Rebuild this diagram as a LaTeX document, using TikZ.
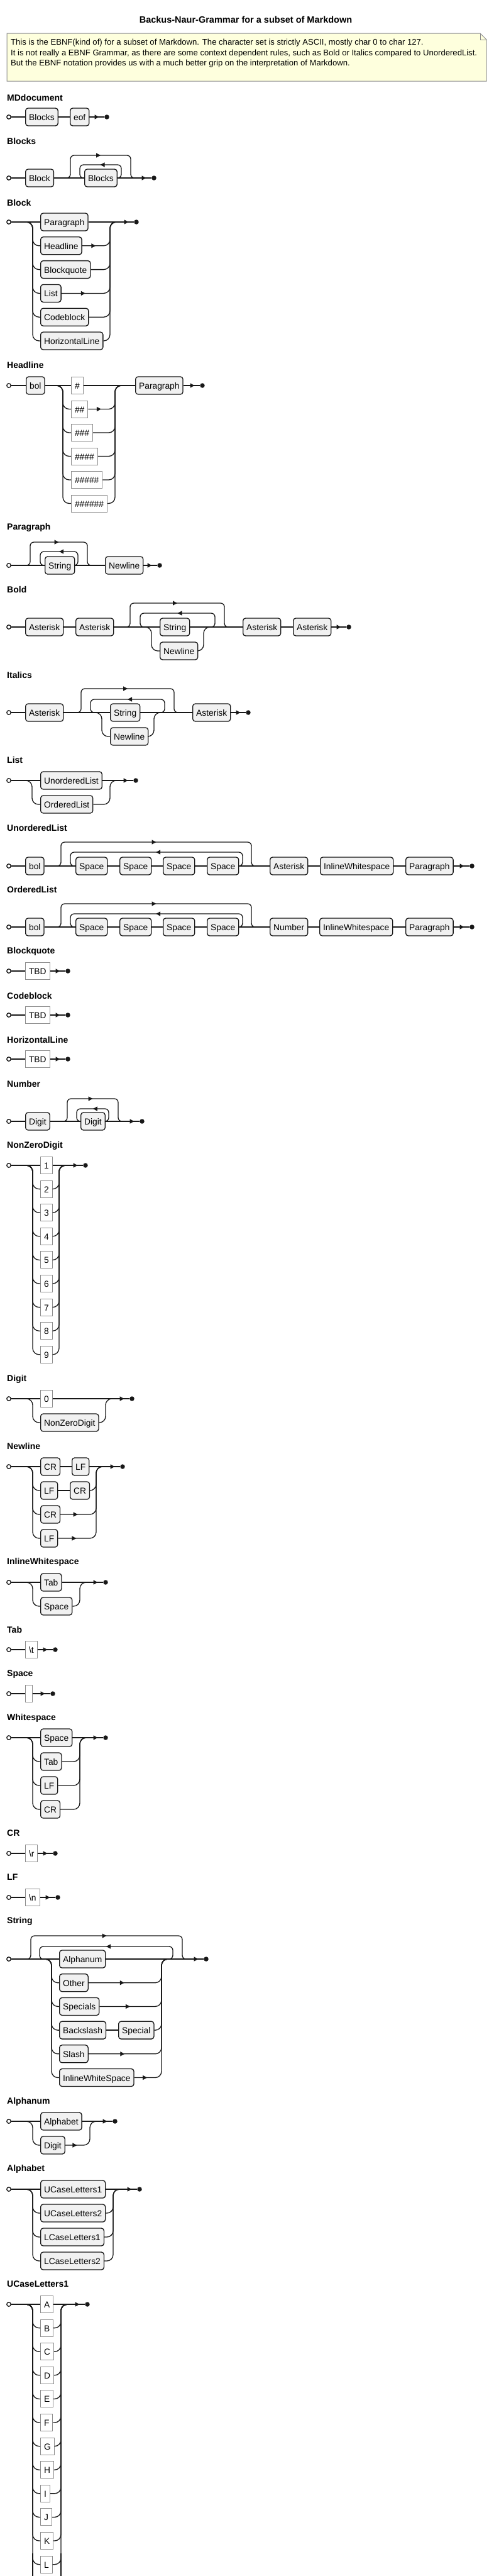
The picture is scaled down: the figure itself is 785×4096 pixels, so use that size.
\documentclass[tikz,border=0pt]{standalone}
\usepackage{fontspec}
\setmainfont{Liberation Sans}
\usetikzlibrary{arrows.meta,decorations.markings}

\definecolor{railc}{HTML}{181818}
\definecolor{ntfill}{HTML}{F1F1F1}
\definecolor{tmline}{HTML}{8C8C8C}
\definecolor{notefill}{HTML}{FEFFDD}
\definecolor{noteline}{HTML}{8C8C8C}
\newcommand{\boxfont}{\fontsize{13.8}{16}\selectfont}
\newcommand{\rulefont}{\fontsize{14}{17}\selectfont\bfseries}
\newcommand{\notefont}{\fontsize{13.1}{15}\selectfont}

\begin{document}
\begin{tikzpicture}[x=1pt,y=-1pt,
  rail/.style={draw,color=railc,line width=1.3pt,rounded corners=10pt},
  loopr/.style={rail,rounded corners=6pt},
  arrat/.style={postaction={decorate},decoration={markings,mark=at position #1 with {\arrow{Triangle[length=7pt,width=7pt]}}}},
  nt/.style={draw=railc,fill=ntfill,line width=1.3pt,rounded corners=4pt,minimum height=28pt,inner xsep=5.5pt,inner ysep=0pt,text height=11pt,text depth=0pt,font=\boxfont,anchor=west},
  tm/.style={draw=tmline,fill=white,line width=1pt,minimum height=27pt,inner xsep=5.5pt,inner ysep=0pt,text height=11pt,text depth=0pt,font=\boxfont,anchor=west},
  rname/.style={font=\rulefont,anchor=west,inner sep=0pt},
  notet/.style={font=\notefont,anchor=west,inner sep=0pt},
  bgn/.style={circle,draw=railc,fill=white,line width=1.3pt,minimum size=6.5pt,inner sep=0pt},
  fin/.style={circle,fill=railc,minimum size=7.5pt,inner sep=0pt}]
  \useasboundingbox (0,0) rectangle (785,4096);
  \clip (0,0) rectangle (785,4096);

  % title and note
  \node[font=\fontsize{14.5}{17}\selectfont\bfseries] (title) at (391,31) {Backus-Naur-Grammar for a subset of Markdown};
  \draw[fill=notefill,draw=noteline,line width=1pt] (11,53) -- (764,53) -- (774,63) -- (774,129) -- (11,129) -- cycle;
  \draw[draw=noteline,line width=1pt] (764,53) -- (764,63) -- (774,63);
  \node[notet] (note1) at (17,68) {This is the EBNF(kind of) for a subset of Markdown. The character set is strictly ASCII, mostly char 0 to char 127.};
  \node[notet] (note2) at (17,85) {It is not really a EBNF Grammar, as there are some context dependent rules, such as Bold or Italics compared to UnorderedList.};
  \node[notet] (note3) at (17,101) {But the EBNF notation provides us with a much better grip on the interpretation of Markdown.};

  % MDdocument
  \node[rname] (t-md) at (11,155) {MDdocument};
  \node[bgn] (md-in) at (14,186) {};
  \node[nt] (md-blocks) at (40,186) {Blocks};
  \node[nt] (md-eof) at (111,186) {eof};
  \node[fin] (md-out) at (170,186) {};
  \draw[rail] (md-in) -- (md-blocks) -- (md-eof);
  \draw[rail,arrat=-8.5pt] (md-eof) -- (md-out);

  % Blocks
  \node[rname] (t-bks) at (11,224) {Blocks};
  \node[bgn] (bks-in) at (14,283) {};
  \node[nt] (bks-block) at (40,283) {Block};
  \node[nt] (bks-blocks) at (134,283) {Blocks};
  \node[fin] (bks-out) at (245,283) {};
  \draw[rail] (bks-in) -- (bks-block) -- (bks-blocks);
  \draw[rail,arrat=-8.5pt] (bks-blocks) -- (bks-out);
  \draw[loopr,arrat=0.5] (104,283) -| (112,247) -| (208,283) -- (216,283);
  \draw[loopr,arrat=0.5] (bks-blocks.east) -| (193,262) -| (127,283) -- (bks-blocks.west);

  % Block
  \node[rname] (t-blk) at (11,322) {Block};
  \node[bgn] (blk-in) at (14,353) {};
  \node[nt] (blk-par) at (64,353) {Paragraph};
  \node[nt] (blk-head) at (64,390.8) {Headline};
  \node[nt] (blk-quote) at (64,428.6) {Blockquote};
  \node[nt] (blk-list) at (64,466.4) {List};
  \node[nt] (blk-code) at (64,504.2) {Codeblock};
  \node[nt] (blk-hline) at (64,542) {HorizontalLine};
  \node[fin] (blk-out) at (217,353) {};
  \draw[rail] (blk-in) -- (blk-par);
  \draw[rail,arrat=-8.5pt] (blk-par) -- (blk-out);
  \foreach \n in {head,quote,list,code,hline}
    \draw[rail] (42,353) -| (52,0 |- blk-\n.west) -- (blk-\n.west);
  \draw[rail,arrat=21.5pt] (blk-head.east) -| (175,353) -- (185,353);
  \draw[rail,arrat=38pt] (blk-list.east) -| (175,353) -- (185,353);
  \foreach \n in {quote,code,hline}
    \draw[rail] (blk-\n.east) -| (175,353) -- (185,353);

  % Headline
  \node[rname] (t-hd) at (11,580) {Headline};
  \node[bgn] (hd-in) at (14,613) {};
  \node[nt] (hd-bol) at (41,613) {bol};
  \node[tm] (hd-h1) at (113,613) {\#};
  \node[tm] (hd-h2) at (113,650.5) {\#\#};
  \node[tm] (hd-h3) at (113,688) {\#\#\#};
  \node[tm] (hd-h4) at (113,725.5) {\#\#\#\#};
  \node[tm] (hd-h5) at (113,763) {\#\#\#\#\#};
  \node[tm] (hd-h6) at (113,800.5) {\#\#\#\#\#\#};
  \node[nt] (hd-par) at (215,613) {Paragraph};
  \node[fin] (hd-out) at (322,613) {};
  \draw[rail] (hd-in) -- (hd-bol) -- (hd-h1) -- (hd-par);
  \draw[rail,arrat=-8.5pt] (hd-par) -- (hd-out);
  \foreach \n in {2,...,6}
    \draw[rail] (90,613) -| (100,0 |- hd-h\n.west) -- (hd-h\n.west);
  \draw[rail,arrat=20.5pt] (hd-h2.east) -| (183,613) -- (193,613);
  \foreach \n in {3,...,6}
    \draw[rail] (hd-h\n.east) -| (183,613) -- (193,613);

  % Paragraph
  \node[rname] (t-par) at (11,839) {Paragraph};
  \node[bgn] (par-in) at (14,899) {};
  \node[nt] (par-str) at (71,899) {String};
  \node[nt] (par-nl) at (167,899) {Newline};
  \node[fin] (par-out) at (254,899) {};
  \draw[rail] (par-in) -- (par-str) -- (par-nl);
  \draw[rail,arrat=-8.5pt] (par-nl) -- (par-out);
  \draw[loopr,arrat=0.5] (41,899) -| (48,862) -| (139,899) -- (146,899);
  \draw[loopr,arrat=0.5] (par-str.east) -| (124,877) -| (64,899) -- (par-str.west);

  % Bold
  \node[rname] (t-bold) at (11,937) {Bold};
  \node[bgn] (bo-in) at (14,997) {};
  \node[nt] (bo-a1) at (40,997) {Asterisk};
  \node[nt] (bo-a2) at (120,997) {Asterisk};
  \node[nt] (bo-str) at (254,997) {String};
  \node[nt] (bo-nl) at (254,1035) {Newline};
  \node[nt] (bo-a3) at (386,997) {Asterisk};
  \node[nt] (bo-a4) at (466,997) {Asterisk};
  \node[fin] (bo-out) at (555,997) {};
  \draw[rail] (bo-in) -- (bo-a1) -- (bo-a2) -- (bo-str) -- (bo-a3) -- (bo-a4);
  \draw[rail,arrat=-8.5pt] (bo-a4) -- (bo-out);
  \draw[loopr,arrat=0.5] (200,997) -| (207,959) -| (357,997) -- (364,997);
  \draw[loopr,arrat=0.5] (335,997) -| (342,975) -| (223,997) -- (230,997);
  \draw[rail] (231,997) -| (241,1035) -- (bo-nl.west);
  \draw[rail] (bo-nl.east) -| (324,997) -- (334,997);

  % Italics
  \node[rname] (t-ita) at (11,1073) {Italics};
  \node[bgn] (it-in) at (14,1133) {};
  \node[nt] (it-a1) at (40,1133) {Asterisk};
  \node[nt] (it-str) at (175,1133) {String};
  \node[nt] (it-nl) at (175,1171) {Newline};
  \node[nt] (it-a2) at (306,1133) {Asterisk};
  \node[fin] (it-out) at (395,1133) {};
  \draw[rail] (it-in) -- (it-a1) -- (it-str) -- (it-a2);
  \draw[rail,arrat=-8.5pt] (it-a2) -- (it-out);
  \draw[loopr,arrat=0.5] (122,1133) -| (129,1095) -| (277,1133) -- (284,1133);
  \draw[loopr,arrat=0.5] (255,1133) -| (262,1112) -| (144,1133) -- (151,1133);
  \draw[rail] (152,1133) -| (162,1171) -- (it-nl.west);
  \draw[rail] (it-nl.east) -| (245,1133) -- (255,1133);

  % List
  \node[rname] (t-list) at (11,1208) {List};
  \node[bgn] (li-in) at (14,1241) {};
  \node[nt] (li-ul) at (64,1241) {UnorderedList};
  \node[nt] (li-ol) at (64,1279) {OrderedList};
  \node[fin] (li-out) at (216,1241) {};
  \draw[rail] (li-in) -- (li-ul);
  \draw[rail,arrat=-8.5pt] (li-ul) -- (li-out);
  \draw[rail] (41,1241) -| (51,1279) -- (li-ol.west);
  \draw[rail] (li-ol.east) -| (175,1241) -- (185,1241);

  % UnorderedList
  \node[rname] (t-ul) at (11,1316) {UnorderedList};
  \node[bgn] (ul-in) at (14,1377) {};
  \node[nt] (ul-bol) at (40,1377) {bol};
  \foreach \i/\x in {1/120,2/190,3/259,4/329}
    \node[nt] (ul-s\i) at (\x,1377) {Space};
  \node[nt] (ul-ast) at (429,1377) {Asterisk};
  \node[nt] (ul-iws) at (509,1377) {InlineWhitespace};
  \node[nt] (ul-par) at (645,1377) {Paragraph};
  \node[fin] (ul-out) at (751,1377) {};
  \draw[rail] (ul-in) -- (ul-bol) -- (ul-s1) -- (ul-s2) -- (ul-s3) -- (ul-s4) -- (ul-ast) -- (ul-iws) -- (ul-par);
  \draw[rail,arrat=-8.5pt] (ul-par) -- (ul-out);
  \draw[loopr,arrat=0.5] (90,1377) -| (97,1339) -| (400,1377) -- (407,1377);
  \draw[loopr,arrat=0.5] (ul-s4.east) -| (386,1355) -| (112,1377) -- (ul-s1.west);

  % OrderedList
  \node[rname] (t-ol) at (11,1414) {OrderedList};
  \node[bgn] (ol-in) at (14,1474) {};
  \node[nt] (ol-bol) at (40,1474) {bol};
  \foreach \i/\x in {1/120,2/190,3/259,4/329}
    \node[nt] (ol-s\i) at (\x,1474) {Space};
  \node[nt] (ol-num) at (429,1474) {Number};
  \node[nt] (ol-iws) at (508,1474) {InlineWhitespace};
  \node[nt] (ol-par) at (645,1474) {Paragraph};
  \node[fin] (ol-out) at (751,1474) {};
  \draw[rail] (ol-in) -- (ol-bol) -- (ol-s1) -- (ol-s2) -- (ol-s3) -- (ol-s4) -- (ol-num) -- (ol-iws) -- (ol-par);
  \draw[rail,arrat=-8.5pt] (ol-par) -- (ol-out);
  \draw[loopr,arrat=0.5] (90,1474) -| (97,1437) -| (400,1474) -- (407,1474);
  \draw[loopr,arrat=0.5] (ol-s4.east) -| (386,1453) -| (112,1474) -- (ol-s1.west);

  % Blockquote, Codeblock, HorizontalLine
  \foreach \t/\n [count=\i from 0] in {Blockquote/bq,Codeblock/cb,HorizontalLine/hz}{
    \node[rname] (t-\n) at (11,{1513+70*\i}) {\t};
    \node[bgn] (\n-in) at (14,{1544+70*\i}) {};
    \node[tm] (\n-tbd) at (40,{1544+70*\i}) {TBD};
    \node[fin] (\n-out) at (108,{1544+70*\i}) {};
    \draw[rail] (\n-in) -- (\n-tbd);
    \draw[rail,arrat=-8.5pt] (\n-tbd) -- (\n-out);
  }

  % Number
  \node[rname] (t-num) at (11,1723) {Number};
  \node[bgn] (nu-in) at (14,1783) {};
  \node[nt] (nu-d1) at (40,1783) {Digit};
  \node[nt] (nu-d2) at (128,1783) {Digit};
  \node[fin] (nu-out) at (226,1783) {};
  \draw[rail] (nu-in) -- (nu-d1) -- (nu-d2);
  \draw[rail,arrat=-8.5pt] (nu-d2) -- (nu-out);
  \draw[loopr,arrat=0.5] (100,1783) -| (107,1747) -| (188,1783) -- (195,1783);
  \draw[loopr,arrat=0.5] (nu-d2.east) -| (173,1763) -| (122,1783) -- (nu-d2.west);

  % NonZeroDigit
  \node[rname] (t-nzd) at (11,1822) {NonZeroDigit};
  \node[bgn] (nz-in) at (14,1853) {};
  \foreach \d in {1,...,9}
    \node[tm] (nz-\d) at (64,{1853+(\d-1)*37.6}) {\d};
  \node[fin] (nz-out) at (136,1853) {};
  \draw[rail] (nz-in) -- (nz-1);
  \draw[rail,arrat=-8.5pt] (nz-1) -- (nz-out);
  \foreach \d in {2,...,9}{
    \draw[rail] (42,1853) -| (52,0 |- nz-\d.west) -- (nz-\d.west);
    \draw[rail] (nz-\d.east) -| (94,1853) -- (104,1853);
  }

  % Digit
  \node[rname] (t-dig) at (11,2193) {Digit};
  \node[bgn] (dg-in) at (14,2224) {};
  \node[tm] (dg-0) at (64,2224) {0};
  \node[nt] (dg-nzd) at (64,2262) {NonZeroDigit};
  \node[fin] (dg-out) at (210,2224) {};
  \draw[rail] (dg-in) -- (dg-0);
  \draw[rail,arrat=-8.5pt] (dg-0) -- (dg-out);
  \draw[rail] (42,2224) -| (52,2262) -- (dg-nzd.west);
  \draw[rail] (dg-nzd.east) -| (168,2224) -- (178,2224);

  % Newline
  \node[rname] (t-nl) at (11,2299) {Newline};
  \node[bgn] (nl-in) at (14,2332) {};
  \node[nt] (nl-cr1) at (64,2332) {CR};
  \node[nt] (nl-lf1) at (114,2332) {LF};
  \node[nt] (nl-lf2) at (64,2370) {LF};
  \node[nt] (nl-cr2) at (111,2370) {CR};
  \node[nt] (nl-cr3) at (64,2408) {CR};
  \node[nt] (nl-lf4) at (64,2446) {LF};
  \node[fin] (nl-out) at (195,2332) {};
  \draw[rail] (nl-in) -- (nl-cr1) -- (nl-lf1);
  \draw[rail,arrat=-8.5pt] (nl-lf1) -- (nl-out);
  \draw[rail] (nl-lf2) -- (nl-cr2);
  \foreach \n in {lf2,cr3,lf4}
    \draw[rail] (42,2332) -| (52,0 |- nl-\n.west) -- (nl-\n.west);
  \draw[rail] (nl-cr2.east) -| (153,2332) -- (163,2332);
  \draw[rail,arrat=27.5pt] (nl-cr3.east) -| (153,2332) -- (163,2332);
  \draw[rail,arrat=29pt] (nl-lf4.east) -| (153,2332) -- (163,2332);

  % InlineWhitespace
  \node[rname] (t-iws) at (11,2484) {InlineWhitespace};
  \node[bgn] (iw-in) at (14,2516) {};
  \node[nt] (iw-tab) at (64,2516) {Tab};
  \node[nt] (iw-sp) at (64,2554) {Space};
  \node[fin] (iw-out) at (168,2516) {};
  \draw[rail] (iw-in) -- (iw-tab);
  \draw[rail,arrat=-8.5pt] (iw-tab) -- (iw-out);
  \draw[rail] (42,2516) -| (52,2554) -- (iw-sp.west);
  \draw[rail] (iw-sp.east) -| (127,2516) -- (137,2516);

  % Tab
  \node[rname] (t-tab) at (11,2591) {Tab};
  \node[bgn] (tb-in) at (14,2623) {};
  \node[tm] (tb-t) at (40,2623) {\textbackslash t};
  \node[fin] (tb-out) at (88,2623) {};
  \draw[rail] (tb-in) -- (tb-t);
  \draw[rail,arrat=-8.5pt] (tb-t) -- (tb-out);

  % Space
  \node[rname] (t-spc) at (11,2662) {Space};
  \node[bgn] (sp-in) at (14,2693) {};
  \node[tm] (sp-t) at (40,2693) {\ };
  \node[fin] (sp-out) at (84,2693) {};
  \draw[rail] (sp-in) -- (sp-t);
  \draw[rail,arrat=-8.5pt] (sp-t) -- (sp-out);

  % Whitespace
  \node[rname] (t-ws) at (11,2732) {Whitespace};
  \node[bgn] (ws-in) at (14,2763) {};
  \node[nt] (ws-sp) at (64,2763) {Space};
  \node[nt] (ws-tab) at (64,2801) {Tab};
  \node[nt] (ws-lf) at (64,2839) {LF};
  \node[nt] (ws-cr) at (64,2877) {CR};
  \node[fin] (ws-out) at (168,2763) {};
  \draw[rail] (ws-in) -- (ws-sp);
  \draw[rail,arrat=-8.5pt] (ws-sp) -- (ws-out);
  \foreach \n in {tab,lf,cr}{
    \draw[rail] (42,2763) -| (52,0 |- ws-\n.west) -- (ws-\n.west);
    \draw[rail] (ws-\n.east) -| (127,2763) -- (137,2763);
  }

  % CR
  \node[rname] (t-cr) at (11,2915) {CR};
  \node[bgn] (cr-in) at (14,2947) {};
  \node[tm] (cr-t) at (40,2947) {\textbackslash r};
  \node[fin] (cr-out) at (88,2947) {};
  \draw[rail] (cr-in) -- (cr-t);
  \draw[rail,arrat=-8.5pt] (cr-t) -- (cr-out);

  % LF
  \node[rname] (t-lf) at (11,2985) {LF};
  \node[bgn] (lf-in) at (14,3017) {};
  \node[tm] (lf-t) at (40,3017) {\textbackslash n};
  \node[fin] (lf-out) at (92,3017) {};
  \draw[rail] (lf-in) -- (lf-t);
  \draw[rail,arrat=-8.5pt] (lf-t) -- (lf-out);

  % String
  \node[rname] (t-str) at (11,3055) {String};
  \node[bgn] (st-in) at (14,3115) {};
  \node[nt] (st-an) at (94,3115) {Alphanum};
  \node[nt] (st-ot) at (94,3152.7) {Other};
  \node[nt] (st-spc) at (94,3190.4) {Specials};
  \node[nt] (st-bs) at (94,3228.1) {Backslash};
  \node[nt] (st-sp) at (188,3228.1) {Special};
  \node[nt] (st-sl) at (94,3265.8) {Slash};
  \node[nt] (st-iws) at (94,3303.5) {InlineWhiteSpace};
  \node[fin] (st-out) at (328,3115) {};
  \draw[rail] (st-in) -- (st-an);
  \draw[rail,arrat=-8.5pt] (st-an) -- (st-out);
  \draw[rail] (st-bs) -- (st-sp);
  \foreach \n in {ot,spc,bs,sl,iws}
    \draw[rail] (72,3115) -| (82,0 |- st-\n.west) -- (st-\n.west);
  \draw[rail,arrat=57pt] (st-ot.east) -| (257,3115) -- (267,3115);
  \draw[rail,arrat=48.5pt] (st-spc.east) -| (257,3115) -- (267,3115);
  \draw[rail] (st-sp.east) -| (257,3115) -- (267,3115);
  \draw[rail,arrat=57.5pt] (st-sl.east) -| (257,3115) -- (267,3115);
  \draw[rail,arrat=20.5pt] (st-iws.east) -| (257,3115) -- (267,3115);
  \draw[loopr,arrat=0.5] (42,3115) -| (49,3078) -| (290,3115) -- (297,3115);
  \draw[loopr,arrat=0.5] (268,3115) -| (275,3095) -| (63,3115) -- (70,3115);

  % Alphanum
  \node[rname] (t-an) at (11,3342) {Alphanum};
  \node[bgn] (an-in) at (14,3373) {};
  \node[nt] (an-ab) at (64,3373) {Alphabet};
  \node[nt] (an-dg) at (64,3411) {Digit};
  \node[fin] (an-out) at (183,3373) {};
  \draw[rail] (an-in) -- (an-ab);
  \draw[rail,arrat=-8.5pt] (an-ab) -- (an-out);
  \draw[rail] (42,3373) -| (52,3411) -- (an-dg.west);
  \draw[rail,arrat=18.5pt] (an-dg.east) -| (143,3373) -- (153,3373);

  % Alphabet
  \node[rname] (t-ab) at (11,3449) {Alphabet};
  \node[bgn] (ab-in) at (14,3481) {};
  \node[nt] (ab-u1) at (64,3481) {UCaseLetters1};
  \node[nt] (ab-u2) at (64,3519) {UCaseLetters2};
  \node[nt] (ab-l1) at (64,3557) {LCaseLetters1};
  \node[nt] (ab-l2) at (64,3595) {LCaseLetters2};
  \node[fin] (ab-out) at (222,3481) {};
  \draw[rail] (ab-in) -- (ab-u1);
  \draw[rail,arrat=-8.5pt] (ab-u1) -- (ab-out);
  \foreach \n in {u2,l1,l2}{
    \draw[rail] (42,3481) -| (52,0 |- ab-\n.west) -- (ab-\n.west);
    \draw[rail] (ab-\n.east) -| (180,3481) -- (190,3481);
  }

  % UCaseLetters1 (runs past the page bottom)
  \node[rname] (t-uc) at (11,3632) {UCaseLetters1};
  \node[bgn] (uc-in) at (14,3664) {};
  \foreach \c [count=\i from 0] in {A,...,L}
    \node[tm] (uc-\c) at (64,{3664+\i*37.6}) {\c};
  \node[fin] (uc-out) at (139,3664) {};
  \draw[rail] (uc-in) -- (uc-A);
  \draw[rail,arrat=-8.5pt] (uc-A) -- (uc-out);
  \foreach \c in {B,...,L}{
    \draw[rail] (42,3664) -| (52,0 |- uc-\c.west) -- (uc-\c.west);
    \draw[rail] (uc-\c.east) -| (97,3664) -- (107,3664);
  }
  \draw[rail] (52,4060) -- (52,4100);
  \draw[rail] (97,4060) -- (97,4100);
\end{tikzpicture}
\end{document}
